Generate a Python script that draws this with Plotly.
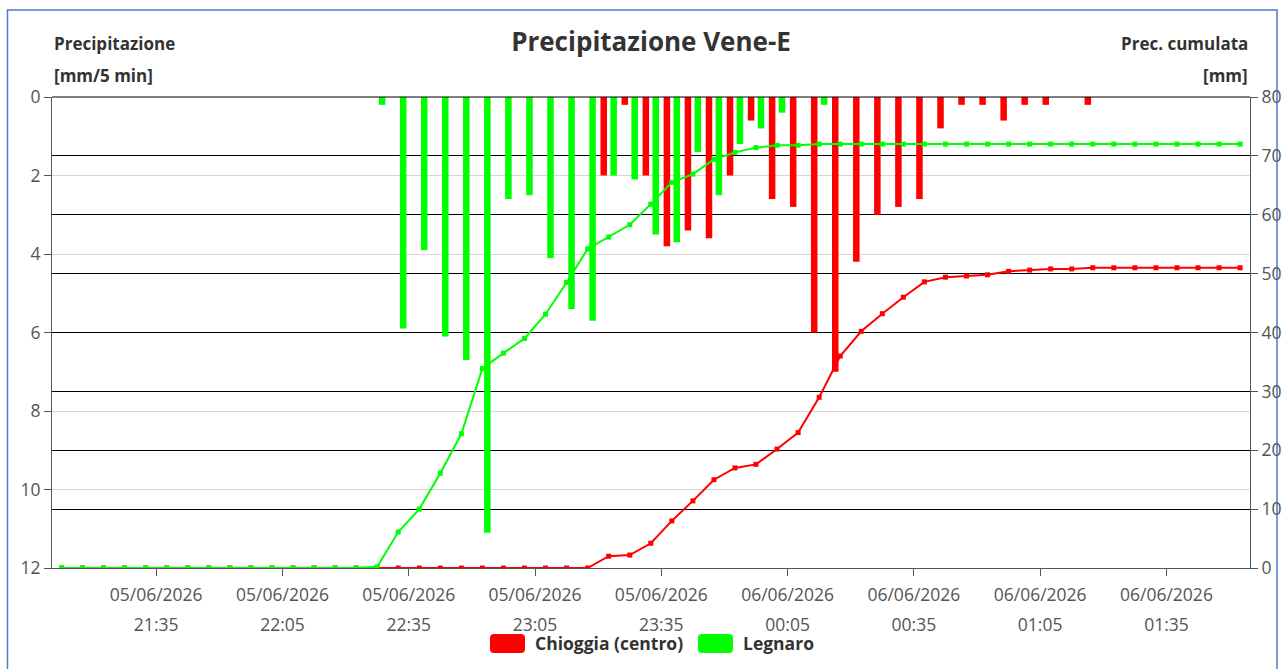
import pandas as pd
import plotly.graph_objects as go

# ---------------- data ----------------
interval_end = pd.date_range("2026-06-05 21:15", periods=57, freq="5min")
times = interval_end - pd.Timedelta(minutes=2.5)   # bars plotted at interval mid-point

chioggia_mm = [0] * 26 + [2.0, 0.2, 2.0, 3.8, 3.4, 3.6, 2.0, 0.6, 2.6, 2.8, 6.0, 7.0,
                          4.2, 3.0, 2.8, 2.6, 0.8, 0.2, 0.2, 0.6, 0.2, 0.2, 0, 0.2] + [0] * 7
legnaro_mm = [0] * 15 + [0.2, 5.9, 3.9, 6.1, 6.7, 11.1, 2.6, 2.5, 4.1, 5.4, 5.7, 2.0,
                         2.1, 3.5, 3.7, 1.4, 2.5, 1.2, 0.8, 0.4, 0, 0.2] + [0] * 20

chioggia_cum = [0] * 26 + [2.0, 2.2, 4.2, 8.0, 11.4, 15.0, 17.0, 17.6, 20.2, 23.0, 29.0, 36.0,
                           40.2, 43.2, 46.0, 48.6, 49.4, 49.6, 49.8, 50.4, 50.6, 50.8, 50.8, 51.0] + [51.0] * 7
legnaro_cum = [0] * 15 + [0.2, 6.1, 10.0, 16.1, 22.8, 33.9, 36.5, 39.0, 43.1, 48.5, 54.2, 56.2,
                          58.3, 61.8, 65.5, 66.9, 69.4, 70.6, 71.4, 71.8, 71.8, 72.0] + [72.0] * 20

station_names = ["Chioggia (centro)", "Legnaro"]
station_colors = ["#FF0000", "#00FF00"]

title_text = "Precipitazione Vene-E"
left_title = ["Precipitazione", "[mm/5 min]"]
right_title = ["Prec. cumulata", "[mm]"]

# ---------------- layout geometry (pixels) ----------------
W, H = 1283, 669
PL, PR, PT, PB = 52, 1250, 97, 568


def px(x):
    return (x - PL) / (PR - PL)


def py(y):
    return (PB - y) / (PB - PT)


FONT = "Open Sans"
TXT = "#333333"
AX = "#555555"
TICK = "#555555"

fig = go.Figure()
for name, col, vals in zip(station_names, station_colors, [chioggia_mm, legnaro_mm]):
    fig.add_trace(go.Bar(x=times, y=vals, name=name, marker=dict(color=col, line=dict(width=0)),
                         legendgroup=name, showlegend=False, xaxis="x", yaxis="y"))
for name, col, vals in zip(station_names, station_colors, [chioggia_cum, legnaro_cum]):
    fig.add_trace(go.Scatter(x=times, y=vals, name=name, mode="lines+markers",
                             line=dict(color=col, width=2),
                             marker=dict(symbol="square", size=5, color=col),
                             legendgroup=name, showlegend=False, xaxis="x2", yaxis="y2"))

x_range = ["2026-06-05 21:10:15", "2026-06-06 01:54:51"]
tick_common = dict(type="date", range=x_range, tick0="2026-06-05 21:35",
                   dtick=30 * 60 * 1000, showgrid=False, zeroline=False, automargin=False,
                   tickfont=dict(family=FONT, size=17.5, color=TICK))

fig.update_layout(
    width=W, height=H,
    margin=dict(l=PL, r=W - PR, t=PT, b=H - PB, autoexpand=False),
    paper_bgcolor="white", plot_bgcolor="white",
    font=dict(family=FONT, color=TXT),
    barmode="group", bargap=0.06, bargroupgap=0.34,
    showlegend=False,
    title=dict(text=title_text, x=0.5, xref="paper", xanchor="center",
               y=1 - 42 / H, yref="container", yanchor="middle",
               font=dict(family=FONT, size=26, color=TXT, weight="bold")),
    xaxis=dict(**tick_common, tickformat="%d/%m/%Y", ticks="outside", ticklen=7,
               tickcolor=AX, showline=True, linecolor=AX, linewidth=1, ticklabelstandoff=4),
    xaxis2=dict(**tick_common, tickformat="%H:%M", overlaying="x", anchor="y2", side="bottom",
                ticks="", showline=False, ticklabelstandoff=44),
    yaxis=dict(range=[12, 0], tickmode="linear", tick0=0, dtick=2, automargin=False,
               showgrid=True, gridcolor="#d6d6d6", gridwidth=1, zeroline=False,
               showline=True, linecolor=AX, ticks="outside", ticklen=7, tickcolor=AX,
               tickfont=dict(family=FONT, size=17.5, color=TICK)),
    yaxis2=dict(range=[0, 80], tickmode="linear", tick0=0, dtick=10, overlaying="y", side="right",
                automargin=False,
                showgrid=True, gridcolor="#000000", gridwidth=1, zeroline=False,
                showline=True, linecolor=AX, ticks="outside", ticklen=7, tickcolor=AX,
                tickfont=dict(family=FONT, size=17.5, color=TICK)),
)

# top frame line (max gridline of the cumulative axis)
fig.add_shape(type="line", xref="paper", yref="paper", x0=0, x1=1, y0=1, y1=1,
              line=dict(color="#000000", width=1))

# axis titles
for i, txt in enumerate(left_title):
    fig.add_annotation(text=txt, xref="paper", yref="paper", x=0, xanchor="left",
                       y=py(43 + 32 * i), yanchor="middle", showarrow=False,
                       font=dict(family=FONT, size=17, color=TXT, weight="bold"))
for i, txt in enumerate(right_title):
    fig.add_annotation(text=txt, xref="paper", yref="paper", x=1, xanchor="right",
                       y=py(43 + 32 * i), yanchor="middle", showarrow=False,
                       font=dict(family=FONT, size=17, color=TXT, weight="bold"))


# legend (rounded swatches + bold labels)
def rounded_rect(x0, y0, x1, y1, r):
    pts = [
        f"M {px(x0 + r)},{py(y0)}",
        f"L {px(x1 - r)},{py(y0)}", f"Q {px(x1)},{py(y0)} {px(x1)},{py(y0 + r)}",
        f"L {px(x1)},{py(y1 - r)}", f"Q {px(x1)},{py(y1)} {px(x1 - r)},{py(y1)}",
        f"L {px(x0 + r)},{py(y1)}", f"Q {px(x0)},{py(y1)} {px(x0)},{py(y1 - r)}",
        f"L {px(x0)},{py(y0 + r)}", f"Q {px(x0)},{py(y0)} {px(x0 + r)},{py(y0)}", "Z",
    ]
    return " ".join(pts)


legend_swatch_x = [490, 698]
for name, col, sx in zip(station_names, station_colors, legend_swatch_x):
    fig.add_shape(type="path", xref="paper", yref="paper",
                  path=rounded_rect(sx, 634, sx + 35, 653, 4),
                  fillcolor=col, line=dict(width=0))
    fig.add_annotation(text=name, xref="paper", yref="paper", x=px(sx + 43), xanchor="left",
                       y=py(643), yanchor="middle", showarrow=False,
                       font=dict(family=FONT, size=17.5, color=TXT, weight="bold"))

# chart border
fig.add_shape(type="rect", xref="paper", yref="paper",
              x0=px(7.5), x1=px(1277), y0=py(690), y1=py(10),
              line=dict(color="#4A7BD0", width=1.5), fillcolor="rgba(0,0,0,0)", layer="below")

fig.write_html("out.html", config={"displayModeBar": False},
               post_script="document.body.style.margin='0px';document.body.style.overflow='hidden';")
